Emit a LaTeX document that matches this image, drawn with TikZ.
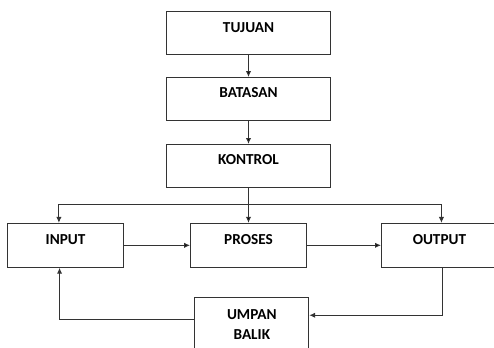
\documentclass[tikz,border=0pt]{standalone}
\usepackage{fontspec}
\setmainfont{Carlito}
\usetikzlibrary{positioning,arrows.meta}

\tikzset{
    kotak/.style = {draw = black!80, line width = 0.8pt, font = \fontsize{13}{15}\selectfont\bfseries,
        text height = 0.3cm, text depth = 0.36cm, inner sep = 0pt},
    atas/.style = {kotak, minimum width = 4.92cm, minimum height = 1.29cm},
    bawah/.style = {kotak, minimum width = 3.48cm, minimum height = 1.32cm},
    balik/.style = {draw = black!80, line width = 0.8pt, font = \fontsize{13}{17}\selectfont\bfseries,
        align = center, minimum width = 3.42cm, minimum height = 1.62cm}
}

\begin{document}
\begin{tikzpicture}[>={Latex[length=5pt, width=4.5pt]}, garis/.style = {draw = black!80, line width = 0.8pt}]
        \clip (-7.455, 0.99) rectangle (7.365, -9.42);
        \useasboundingbox (-7.455, 0.99) rectangle (7.365, -9.42);
        \node [atas] (tujuan) {TUJUAN};
        \node [atas] (batasan) [below = 0.66cm of tujuan] {BATASAN};
        \node [atas] (kontrol) [below = 0.69cm of batasan] {KONTROL};
        \node [bawah] (proses) [below = 1.05cm of kontrol] {PROSES};
        \node [bawah] (input) [left = 1.98cm of proses] {INPUT};
        \node [bawah] (output) [right = 2.22cm of proses] {OUTPUT};
        \node [balik] (umpan) [below = 0.87cm of proses, xshift = 0.1cm] {UMPAN\\BALIK};
        \coordinate (cabang) at ([yshift = -0.51cm]kontrol.south);

        \path[->, garis]
            (tujuan) edge (batasan)
            (batasan) edge (kontrol)
            (kontrol) edge (proses)
            (input) edge (proses)
            (proses) edge (output);
        \draw[->, garis] (cabang) -| ([xshift = -0.2cm]input.north);
        \draw[->, garis] (cabang) -| ([xshift = 0.06cm]output.north);
        \draw[->, garis] ([xshift = 0.09cm]output.south) |- ([yshift = 0.27cm]umpan.east);
        \draw[->, garis] ([yshift = 0.15cm]umpan.west) -| ([xshift = -0.18cm]input.south);
    \end{tikzpicture}
\end{document}
